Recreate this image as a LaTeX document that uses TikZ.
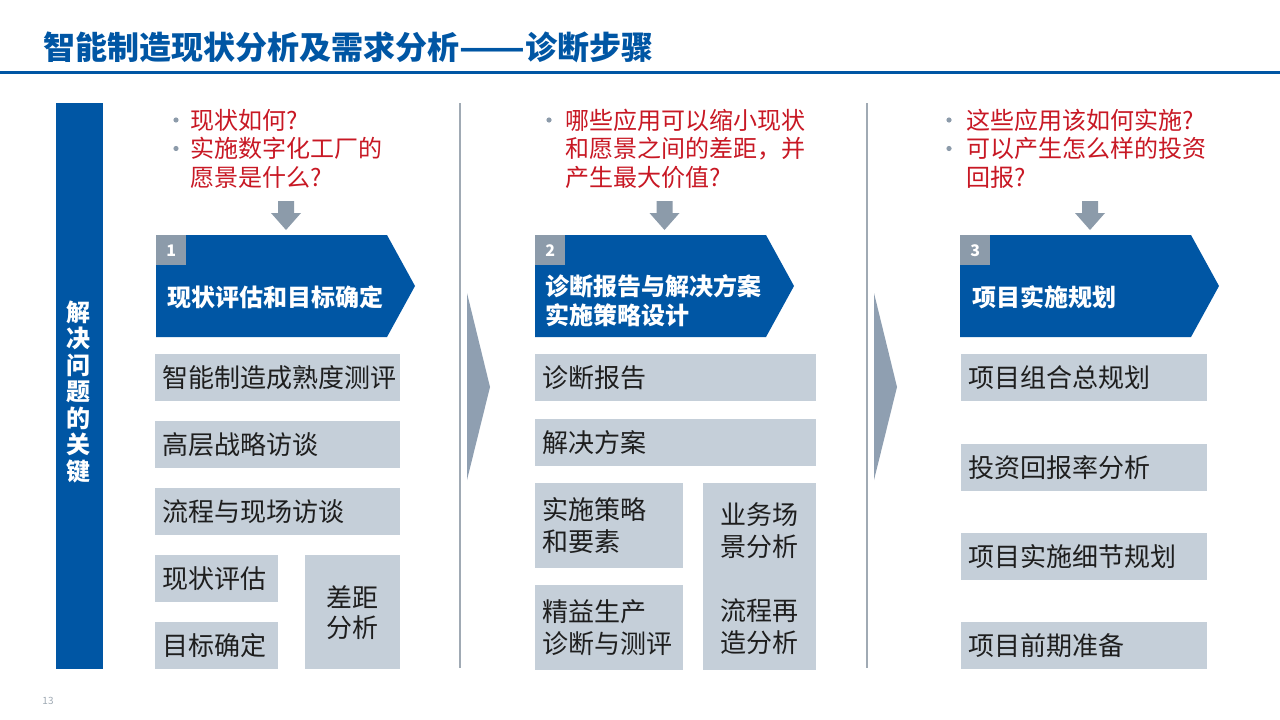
\documentclass[tikz,border=0pt]{standalone}
\usepackage{fontspec}
\setmainfont{Noto Sans CJK SC}
\begin{document}
\begin{tikzpicture}[x=1pt,y=-1pt,
  box/.style={fill=g1,text=t1,anchor=north west,inner xsep=7pt,inner ysep=0pt,
    align=left,font=\fontsize{26}{32}\selectfont},
  ask/.style={text=r1,anchor=west,inner sep=0pt,align=left,
    font=\fontsize{24}{28.5}\selectfont},
  bantxt/.style={text=white,anchor=west,inner sep=0pt,align=left,
    font=\bfseries\fontsize{24}{29}\selectfont},
  numbox/.style={fill=g2,text=white,anchor=north west,minimum size=30pt,
    inner sep=0pt,font=\bfseries\fontsize{16}{16}\selectfont}]
 \definecolor{b1}{RGB}{0,86,164}
 \definecolor{g1}{RGB}{197,207,217}
 \definecolor{g2}{RGB}{140,155,170}
 \definecolor{g3}{RGB}{160,170,180}
 \definecolor{g4}{RGB}{143,159,177}
 \definecolor{r1}{RGB}{200,24,36}
 \definecolor{t1}{RGB}{30,30,30}
 \useasboundingbox[fill=white] (0,0) rectangle (1280,720);
 % header
 \node[anchor=west,inner sep=0pt,text=b1,font=\bfseries\fontsize{32}{32}\selectfont]
   (title) at (43,47) {智能制造现状分析及需求分析\scalebox{1.2}[1]{——}诊断步骤};
 \draw[b1,line width=3pt] (0,72) -- (1280,72);
 % left bar
 \node[fill=b1,anchor=north west,minimum width=47pt,minimum height=566pt,inner sep=0pt]
   (key) at (56,103) {};
 \node[text=white,align=center,inner sep=0pt,font=\bfseries\fontsize{24}{26.5}\selectfont]
   (keytxt) at (78,392) {解\\决\\问\\题\\的\\关\\键};
 % separators
 \foreach \xp in {460,867} {
   \draw[g3,line width=1.5pt] (\xp,103) -- (\xp,668);
   \fill[g4] (\xp+7,293) -- (\xp+30,387) -- (\xp+7,480) -- cycle;
 }
 % questions
 \node[ask] (q1) at (190,148.5) {现状如何?\\实施数字化工厂的\\愿景是什么?};
 \node[ask] (q2) at (565,148.5) {哪些应用可以缩小现状\\和愿景之间的差距，并\\产生最大价值?};
 \node[ask] (q3) at (966,148.5) {这些应用该如何实施?\\可以产生怎么样的投资\\回报?};
 \foreach \xp/\yp in {176/120, 176/148.5, 549/120, 949/120, 949/148.5}
   \fill[g2] (\xp,\yp) circle (2.6pt);
 % down arrows
 \foreach \xp in {286,664.5,1090}
   \fill[g2] (\xp-8,201) -- (\xp+8,201) -- (\xp+8,213) -- (\xp+15,213)
     -- (\xp,230) -- (\xp-15,213) -- (\xp-8,213) -- cycle;
 % banners
 \foreach \n/\xp in {1/156, 2/535, 3/960} {
   \fill[b1] (\xp,235) -- ++(231,0) -- ++(28,51) -- ++(-28,51) -- ++(-231,0) -- cycle;
   \node[numbox] (n\n) at (\xp,235) {\n};
 }
 \node[bantxt] (h1) at (167,297) {现状评估和目标确定};
 \node[bantxt] (h2) at (545,300.5) {诊断报告与解决方案\\实施策略设计};
 \node[bantxt] (h3) at (972,297) {项目实施规划};
 % column 1
 \foreach \nm/\xp/\yp/\w/\txt in {sa/155/354/245/智能制造成熟度测评,
   sb/155/421/245/高层战略访谈, sc/155/488/245/流程与现场访谈,
   sd/155/555/123/现状评估, se/155/622/123/目标确定} {
   \node[box,minimum height=47pt,text width=\w-14] (\nm) at (\xp,\yp) {\txt};
 }
 \node[box,align=center,minimum height=114pt,text width=81,
   font=\fontsize{26}{30}\selectfont] (sf) at (305,555) {差距\\分析};
 % column 2
 \node[box,minimum height=47pt,text width=267] (da) at (535,354) {诊断报告};
 \node[box,minimum height=47pt,text width=267] (db) at (535,419) {解决方案};
 \node[box,minimum height=85pt,text width=134] (dc) at (535,483) {实施策略\\和要素};
 \node[box,minimum height=85pt,text width=134] (dd) at (535,585) {精益生产\\诊断与测评};
 \node[box,minimum height=187pt,text width=99] (de) at (703,483) {};
 \node[align=center,inner sep=0pt,text=t1,font=\fontsize{26}{32}\selectfont]
   (de1) at (759.5,531) {业务场\\景分析};
 \node[align=center,inner sep=0pt,text=t1,font=\fontsize{26}{32}\selectfont]
   (de2) at (759.5,627) {流程再\\造分析};
 % column 3
 \foreach \nm/\yp/\txt in {pa/354/项目组合总规划, pb/444/投资回报率分析,
   pc/533/项目实施细节规划, pd/622/项目前期准备}
   \node[box,minimum height=47pt,text width=232] (\nm) at (961,\yp) {\txt};
 % page number
 \node[text=g3,font=\fontsize{10}{10}\selectfont,inner sep=0pt] (pg) at (48,701) {13};
\end{tikzpicture}
\end{document}
